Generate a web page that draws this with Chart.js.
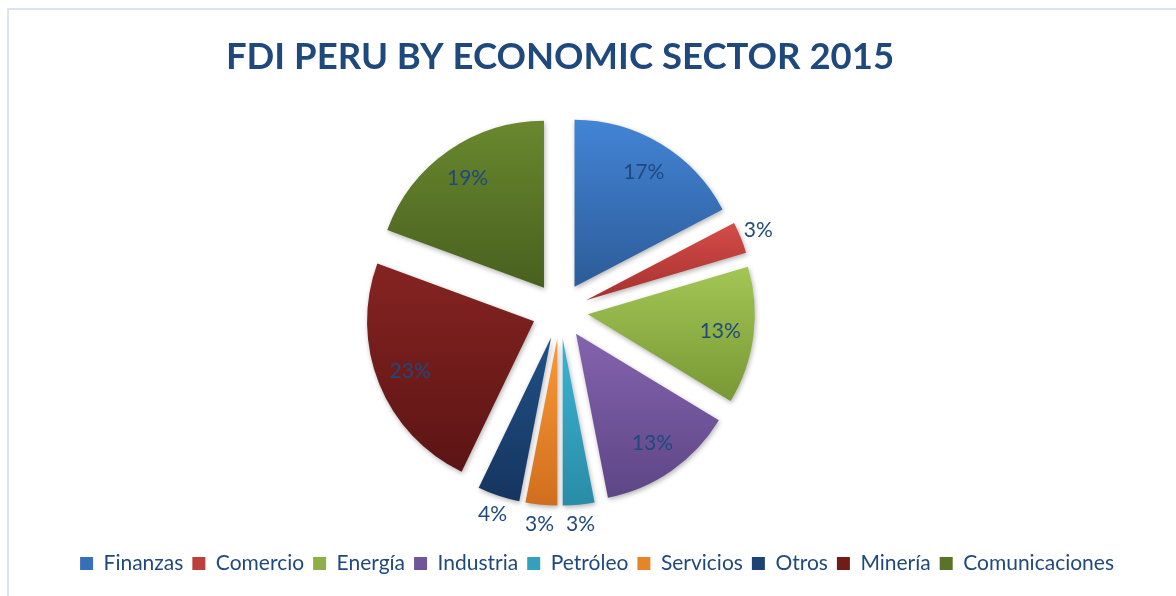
<!DOCTYPE html>
<html>
<head>
<meta charset="utf-8">
<script src="https://cdn.jsdelivr.net/npm/chart.js@4.4.0/dist/chart.umd.min.js"></script>
<style>
  html, body { margin: 0; padding: 0; overflow: hidden; background: #fff; }
  #frame { position: absolute; left: 7px; top: 8px; width: 1200px; height: 640px; border: 2px solid #dbe5f1; }
  #fdi { position: absolute; left: -3px; top: 0; }
</style>
</head>
<body>
<div id="frame"></div>
<canvas id="fdi" width="1126" height="596"></canvas>
<script>
"use strict";

const sectors = ['Finanzas', 'Comercio', 'Energía', 'Industria', 'Petróleo', 'Servicios', 'Otros', 'Minería', 'Comunicaciones'];
const shares = [17, 3, 13, 13, 3, 3, 4, 23, 19];

// top / bottom shade of each slice
const lightColors = ['#4384d6', '#d44c48', '#a3c655', '#8463ae', '#3cb4d4', '#fb9a36', '#215086', '#852422', '#69882e'];
const darkColors = ['#2c5c98', '#a6312f', '#789834', '#5d4686', '#298ca6', '#d06e1e', '#15355f', '#5c1414', '#48601f'];

function mix(a, b) {
    const p = h => [1, 3, 5].map(k => parseInt(h.substr(k, 2), 16));
    const x = p(a), y = p(b);
    return 'rgb(' + x.map((v, k) => Math.round((v + y[k]) / 2)).join(',') + ')';
}
const midColors = lightColors.map((c, i) => mix(c, darkColors[i]));

const EXPLODE = 28;

// every slice pushed out from the centre, filled with its own vertical gradient
const explodedPie = {
    id: 'explodedPie',
    beforeDatasetDraw(chart, args) {
        const ctx = chart.ctx;
        args.meta.data.forEach((arc, i) => {
            const mid = (arc.startAngle + arc.endAngle) / 2;
            let top = arc.y, bottom = arc.y;
            for (let k = 0; k <= 24; k++) {
                const a = arc.startAngle + (arc.endAngle - arc.startAngle) * k / 24;
                const y = arc.y + Math.sin(a) * arc.outerRadius;
                top = Math.min(top, y);
                bottom = Math.max(bottom, y);
            }
            const grad = ctx.createLinearGradient(0, top, 0, bottom);
            grad.addColorStop(0, lightColors[i]);
            grad.addColorStop(1, darkColors[i]);

            ctx.save();
            ctx.translate(Math.cos(mid) * EXPLODE, Math.sin(mid) * EXPLODE);
            ctx.shadowColor = 'rgba(0, 0, 0, 0.3)';
            ctx.shadowBlur = 5;
            ctx.shadowOffsetX = 1;
            ctx.shadowOffsetY = 2;
            const opts = arc.options;
            arc.options = Object.assign({}, opts, { backgroundColor: grad });
            arc.draw(ctx, chart.chartArea);
            arc.options = opts;
            ctx.restore();
        });
        return false;
    }
};

const shareLabels = {
    id: 'shareLabels',
    afterDatasetsDraw(chart) {
        const ctx = chart.ctx;
        const meta = chart.getDatasetMeta(0);
        ctx.save();
        ctx.font = '21px Lato';
        ctx.fillStyle = '#1f497d';
        ctx.textAlign = 'center';
        ctx.textBaseline = 'middle';
        meta.data.forEach((arc, i) => {
            const mid = (arc.startAngle + arc.endAngle) / 2;
            const r = shares[i] >= 5 ? arc.outerRadius * 0.8 : arc.outerRadius + 19;
            const x = arc.x + Math.cos(mid) * (EXPLODE + r);
            const y = arc.y + Math.sin(mid) * (EXPLODE + r);
            ctx.fillText(shares[i] + '%', x, y);
        });
        ctx.restore();
    }
};

new Chart(document.getElementById('fdi'), {
    type: 'pie',
    data: {
        labels: sectors,
        datasets: [{
            data: shares,
            backgroundColor: midColors,
            borderWidth: 0,
            radius: 167
        }]
    },
    options: {
        responsive: false,
        animation: false,
        layout: {
            padding: { bottom: 12 }
        },
        plugins: {
            title: {
                display: true,
                text: 'FDI PERU BY ECONOMIC SECTOR 2015',
                color: '#1f497d',
                font: { family: 'Lato', size: 36.5, weight: 'bold', lineHeight: 1 },
                padding: { top: 39, bottom: 2 }
            },
            legend: {
                position: 'bottom',
                align: 'end',
                labels: {
                    font: { family: 'Lato', size: 21 },
                    color: '#1f497d',
                    boxWidth: 13,
                    boxHeight: 13,
                    padding: 9
                }
            },
            tooltip: { enabled: false }
        }
    },
    plugins: [explodedPie, shareLabels]
});
</script>
</body>
</html>
